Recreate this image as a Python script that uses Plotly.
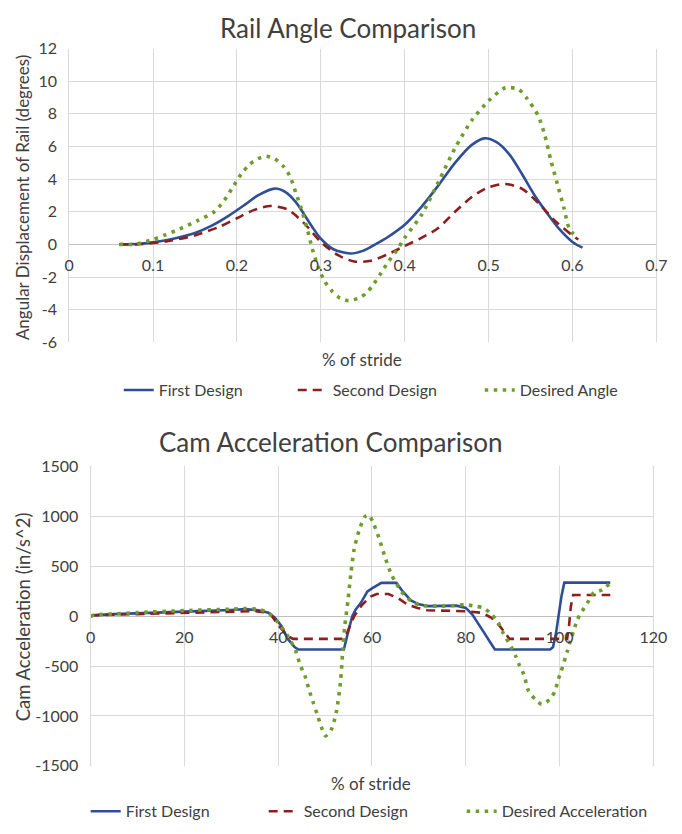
import plotly.graph_objects as go

W, H = 682, 834

# ---------------- Data: Rail Angle Comparison ----------------
rail_first_x = [0.06, 0.08, 0.10, 0.12, 0.15, 0.17, 0.19, 0.21, 0.225, 0.245, 0.258, 0.27, 0.28, 0.29,
                0.30, 0.315, 0.335, 0.35, 0.365, 0.38, 0.40, 0.42, 0.44, 0.46, 0.48, 0.495, 0.51,
                0.525, 0.54, 0.555, 0.57, 0.585, 0.60, 0.612]
rail_first_y = [0.0, 0.02, 0.12, 0.3, 0.7, 1.15, 1.75, 2.45, 3.0, 3.42, 3.2, 2.6, 1.85, 1.05,
                0.35, -0.3, -0.56, -0.4, 0.0, 0.45, 1.2, 2.3, 3.6, 5.0, 6.1, 6.5, 6.25,
                5.5, 4.3, 3.0, 1.9, 0.9, 0.15, -0.2]

rail_second_x = [0.06, 0.08, 0.10, 0.12, 0.15, 0.18, 0.20, 0.22, 0.24, 0.26, 0.28, 0.30, 0.32, 0.34,
                 0.36, 0.38, 0.40, 0.42, 0.44, 0.46, 0.48, 0.50, 0.52, 0.54, 0.56, 0.58, 0.60, 0.607]
rail_second_y = [0.0, 0.0, 0.08, 0.22, 0.55, 1.1, 1.6, 2.1, 2.35, 2.15, 1.3, 0.15, -0.65, -1.05,
                 -1.0, -0.6, -0.1, 0.4, 1.0, 2.0, 2.9, 3.5, 3.7, 3.4, 2.5, 1.4, 0.55, 0.3]

rail_desired_x = [0.06, 0.08, 0.10, 0.113, 0.132, 0.153, 0.173, 0.185, 0.195, 0.205, 0.215, 0.225, 0.235,
                  0.245, 0.255, 0.263, 0.27, 0.276, 0.283, 0.29, 0.297, 0.305, 0.314, 0.323, 0.333, 0.345,
                  0.354, 0.362, 0.37, 0.38, 0.39, 0.40, 0.42, 0.44, 0.46, 0.48, 0.50, 0.52, 0.536, 0.545,
                  0.559, 0.567, 0.574, 0.582, 0.59, 0.596, 0.605]
rail_desired_y = [0.0, 0.02, 0.3, 0.55, 0.95, 1.45, 2.0, 2.7, 3.5, 4.3, 4.9, 5.25, 5.4,
                  5.25, 4.8, 4.2, 3.2, 2.3, 1.1, -0.3, -1.4, -2.3, -2.9, -3.3, -3.45, -3.3,
                  -3.0, -2.5, -1.9, -1.1, -0.4, 0.4, 1.8, 3.8, 5.9, 7.6, 8.8, 9.6, 9.5, 9.0,
                  7.9, 6.7, 5.2, 3.7, 2.2, 1.0, 0.4]

rail_xticks = [0, 0.1, 0.2, 0.3, 0.4, 0.5, 0.6, 0.7]
rail_xlabels = ["0", "0.1", "0.2", "0.3", "0.4", "0.5", "0.6", "0.7"]
rail_yticks = [-6, -4, -2, 0, 2, 4, 6, 8, 10, 12]
rail_ylabels = ["-6", "-4", "-2", "0", "2", "4", "6", "8", "10", "12"]

# ---------------- Data: Cam Acceleration Comparison ----------------
cam_first_x = [0, 1, 5, 10, 20, 30, 33, 35.8, 37.9, 39.3, 40.7, 42, 43.5, 44.3, 54, 54.8, 55.8, 56.5,
               57.6, 59, 60, 62, 65.2, 66.6, 68.3, 70, 72, 78, 80, 81.4, 82.8, 84.1, 85.2, 86.2, 98,
               98.6, 99.2, 100.4, 101, 110.8]
cam_first_y = [0, 10, 20, 30, 45, 62, 70, 58, 33, -16, -98, -226, -310, -335, -335, -180, 0, 65,
               130, 245, 278, 333, 333, 245, 157, 118, 100, 105, 82, 16, -81, -180, -261, -335, -335,
               -310, -180, 200, 335, 335]

cam_second_x = [0, 1, 5, 10, 20, 30, 35, 37, 38.5, 40, 42, 43.2, 53.7, 54.4, 55.3, 56.2, 57.9, 59.7,
                61, 63.5, 65.6, 67.6, 69.7, 71.8, 80, 83.4, 85.5, 86.9, 88.3, 89.3, 101.6, 102.0,
                102.4, 102.9, 110.8]
cam_second_y = [0, 8, 15, 20, 35, 45, 50, 40, 10, -90, -200, -228, -228, -200, -100, 0, 114, 196,
                222, 222, 180, 114, 82, 59, 49, 33, -16, -81, -163, -228, -228, -100,
                100, 212, 212]

cam_desired_x = [0, 1, 5, 10, 20, 30, 33, 36, 38, 40, 42, 43.7, 44.7, 45.8, 46.6, 47.5, 48.3, 49.2,
                 50.1, 51.3, 52.4, 53.3, 53.75, 54.2, 54.9, 55.5, 56.2, 57.2, 58.5, 59.3, 60.3, 61.7,
                 62.8, 64.2, 65.2, 66.25, 67.6, 69, 71, 75, 78, 80, 82.1, 83.8, 85.5, 86.9, 87.9,
                 89.7, 90.7, 91.4, 92.4, 93.4, 94.8, 96.2, 97.9, 99, 99.7, 100.3, 101.7, 102.4, 103.1,
                 103.8, 104.8, 105.9, 107.2, 109, 110.7]
cam_desired_y = [0, 12, 22, 35, 55, 70, 75, 65, 30, -65, -196, -343, -490, -610, -740, -870, -980, -1110,
                 -1200, -1140, -960, -654, -360, -98, 163, 425, 670, 850, 997, 1013, 931, 752,
                 588, 409, 327, 245, 180, 131, 105, 100, 108, 114, 98, 82, 16, -65, -163,
                 -310, -408, -490, -588, -752, -833, -882, -833, -752, -637, -556, -343, -229, -131,
                 -33, 49, 131, 229, 261, 327]

cam_xticks = [0, 20, 40, 60, 80, 100, 120]
cam_xlabels = ["0", "20", "40", "60", "80", "100", "120"]
cam_yticks = [-1500, -1000, -500, 0, 500, 1000, 1500]
cam_ylabels = ["-1500", "-1000", "-500", "0", "500", "1000", "1500"]

# ---------------- Styles ----------------
BLUE = "#2E4F96"
RED = "#8E1E1E"
GREEN = "#6E9E2A"
GRID = "#D9D9D9"
TXT = "#404040"
FONT = "Lato, 'Open Sans', sans-serif"

def px_x(p):
    return p / W

def px_y(p):
    return 1 - p / H

top_dom_x = [px_x(66), px_x(670)]
top_dom_y = [px_y(340), px_y(39.5)]
bot_dom_x = [px_x(88), px_x(667)]
bot_dom_y = [px_y(773.5), px_y(467)]

top_yr = [-6, 12]
bot_yr = [-1500, 1500]
top_zero = top_dom_y[0] + (0 - top_yr[0]) / (top_yr[1] - top_yr[0]) * (top_dom_y[1] - top_dom_y[0])
bot_zero = bot_dom_y[0] + (0 - bot_yr[0]) / (bot_yr[1] - bot_yr[0]) * (bot_dom_y[1] - bot_dom_y[0])

fig = go.Figure()

dot_dash = "3.5px,5.5px"
dash_dash = "9px,6px"

fig.add_trace(go.Scatter(x=rail_first_x, y=rail_first_y, name="First Design", mode="lines",
                         line=dict(color=BLUE, width=2.6, shape="spline", smoothing=0.8),
                         xaxis="x", yaxis="y", legend="legend", legendwidth=129))
fig.add_trace(go.Scatter(x=rail_second_x, y=rail_second_y, name="Second Design", mode="lines",
                         line=dict(color=RED, width=2.6, dash=dash_dash, shape="spline", smoothing=0.8),
                         xaxis="x", yaxis="y", legend="legend", legendwidth=142))
fig.add_trace(go.Scatter(x=rail_desired_x, y=rail_desired_y, name="Desired Angle", mode="lines",
                         line=dict(color=GREEN, width=3.6, dash=dot_dash, shape="spline", smoothing=0.7),
                         xaxis="x", yaxis="y", legend="legend", legendwidth=120))

fig.add_trace(go.Scatter(x=cam_first_x, y=cam_first_y, name="First Design", mode="lines",
                         line=dict(color=BLUE, width=2.6),
                         xaxis="x2", yaxis="y2", legend="legend2", legendwidth=133))
fig.add_trace(go.Scatter(x=cam_second_x, y=cam_second_y, name="Second Design", mode="lines",
                         line=dict(color=RED, width=2.6, dash=dash_dash),
                         xaxis="x2", yaxis="y2", legend="legend2", legendwidth=153))
fig.add_trace(go.Scatter(x=cam_desired_x, y=cam_desired_y, name="Desired Acceleration", mode="lines",
                         line=dict(color=GREEN, width=3.6, dash=dot_dash, shape="spline", smoothing=0.7),
                         xaxis="x2", yaxis="y2", legend="legend2", legendwidth=160))

axis_font = dict(family=FONT, size=16, color=TXT)

fig.update_layout(
    width=W, height=H,
    margin=dict(l=0, r=0, t=0, b=0),
    paper_bgcolor="white", plot_bgcolor="white",
    font=dict(family=FONT, color=TXT),
    xaxis=dict(domain=top_dom_x, range=[0, 0.7], anchor="free", position=top_zero,
               tickvals=rail_xticks, ticktext=rail_xlabels, tickfont=axis_font,
               showgrid=True, gridcolor=GRID, gridwidth=1, zeroline=False, showline=False,
               ticklabelstandoff=10),
    yaxis=dict(domain=top_dom_y, range=top_yr, anchor="x",
               tickvals=rail_yticks, ticktext=rail_ylabels, tickfont=axis_font,
               showgrid=True, gridcolor=GRID, gridwidth=1,
               zeroline=True, zerolinecolor="#BFBFBF", zerolinewidth=1.2,
               showline=True, mirror=True, linecolor=GRID, linewidth=1,
               ticklabelstandoff=8),
    xaxis2=dict(domain=bot_dom_x, range=[0, 120], anchor="free", position=bot_zero,
                tickvals=cam_xticks, ticktext=cam_xlabels, tickfont=axis_font,
                showgrid=True, gridcolor=GRID, gridwidth=1, zeroline=False, showline=False,
                ticklabelstandoff=10),
    yaxis2=dict(domain=bot_dom_y, range=bot_yr, anchor="x2",
                tickvals=cam_yticks, ticktext=cam_ylabels, tickfont=axis_font,
                showgrid=True, gridcolor=GRID, gridwidth=1,
                zeroline=True, zerolinecolor="#BFBFBF", zerolinewidth=1.2,
                showline=True, mirror=True, linecolor=GRID, linewidth=1,
                ticklabelstandoff=8),
    legend=dict(orientation="h", x=px_x(117), y=px_y(389), xanchor="left", yanchor="middle",
                font=dict(family=FONT, size=16, color=TXT), bgcolor="rgba(0,0,0,0)",
                tracegroupgap=0),
    legend2=dict(orientation="h", x=px_x(83), y=px_y(820), xanchor="left", yanchor="middle",
                 font=dict(family=FONT, size=16, color=TXT), bgcolor="rgba(0,0,0,0)",
                 tracegroupgap=0),
    showlegend=True,
)

title_font = dict(family=FONT, size=26, color=TXT)
label_font = dict(family=FONT, size=17, color=TXT)

annotations = [
    dict(text="Rail Angle Comparison", x=px_x(353), y=px_y(18), font=title_font),
    dict(text="Cam Acceleration Comparison", x=px_x(335), y=px_y(442), font=title_font),
    dict(text="% of stride", x=px_x(367), y=px_y(358), font=label_font),
    dict(text="% of stride", x=px_x(377), y=px_y(792), font=label_font),
    dict(text="Angular Displacement of Rail (degrees)", x=px_x(18), y=px_y(192), textangle=-90,
         font=dict(family=FONT, size=17, color=TXT)),
    dict(text="Cam Acceleration (in/s^2)", x=px_x(18), y=px_y(621), textangle=-90,
         font=dict(family=FONT, size=18.5, color=TXT)),
]
for a in annotations:
    a.update(xref="paper", yref="paper", showarrow=False, xanchor="center", yanchor="middle")
fig.update_layout(annotations=annotations)

fig.write_html("out.html")
